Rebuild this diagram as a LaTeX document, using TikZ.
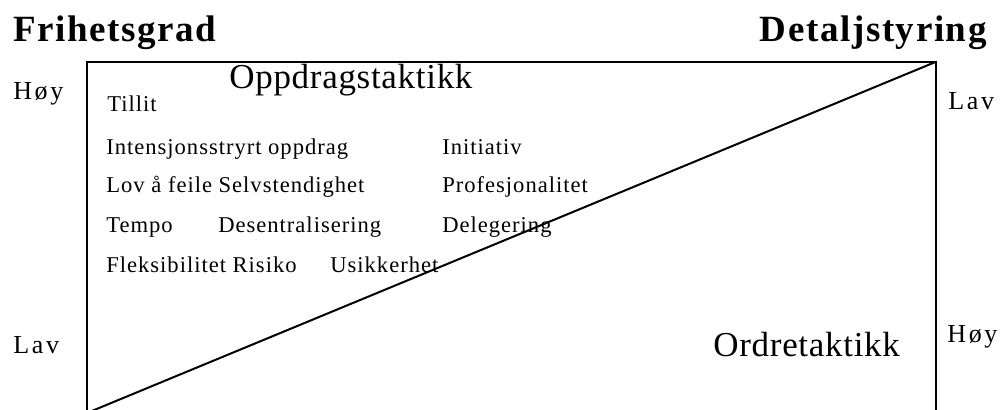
\documentclass[tikz,border=0pt]{standalone}
\usepackage{fontspec}
\setmainfont{Liberation Serif}[LetterSpace=4.3]
\newfontfamily\tacticfont{Liberation Serif}[LetterSpace=2]
\newfontfamily\levelfont{Liberation Serif}[LetterSpace=10]
\usetikzlibrary{positioning}
\tikzset{
  word/.style={anchor=base west, inner sep=0pt, font=\fontsize{11.3}{13}\selectfont},
  heading/.style={inner sep=0pt, font=\fontsize{18.5}{20}\selectfont\bfseries},
  tactic/.style={anchor=base west, inner sep=0pt, font=\tacticfont\fontsize{17.5}{19}\selectfont},
  level/.style={anchor=base west, inner sep=0pt, font=\levelfont\fontsize{13}{15}\selectfont},
  frame/.style={line width=1pt, black}
}
\begin{document}
\begin{tikzpicture}[x=0.5pt, y=0.5pt]
  \useasboundingbox (0,0) rectangle (1002,410);
  % axis titles
  \node[heading, anchor=base west] (frihet) at (13,368) {Frihetsgrad};
  \node[heading, anchor=base east] (detalj) at (987,368) {Detaljstyring};
  \node[level] (hoyL) at (13,310) {Høy};
  \node[level] (lavL) at (13,56) {Lav};
  \node[level] (lavR) at (948,300) {Lav};
  \node[level] (hoyR) at (947,67) {Høy};
  % frame and split
  \coordinate (bl) at (87,-3);
  \coordinate (tr) at (935.5,348);
  \draw[frame] (bl) rectangle (tr);
  \draw[frame] (bl) -- (tr);
  \node[tactic] (oppdrag) at (229,321) {Oppdragstaktikk};
  \node[tactic] (ordre) at (713,53) {Ordretaktikk};
  % terms
  \node[word] (tillit) at (107,298) {Tillit};
  \node[word] (intensjon) at (106,255) {Intensjonsstryrt oppdrag};
  \node[word] (initiativ) at (442,255) {Initiativ};
  \node[word] (lov) at (106,217) {Lov å feile Selvstendighet};
  \node[word] (profesjon) at (442,217) {Profesjonalitet};
  \node[word] (tempo) at (106,177) {Tempo};
  \node[word] (desentral) at (218,177) {Desentralisering};
  \node[word] (deleger) at (442,177) {Delegering};
  \node[word] (fleks) at (106,137) {Fleksibilitet Risiko};
  \node[word] (usikker) at (330,137) {Usikkerhet};
\end{tikzpicture}
\end{document}
